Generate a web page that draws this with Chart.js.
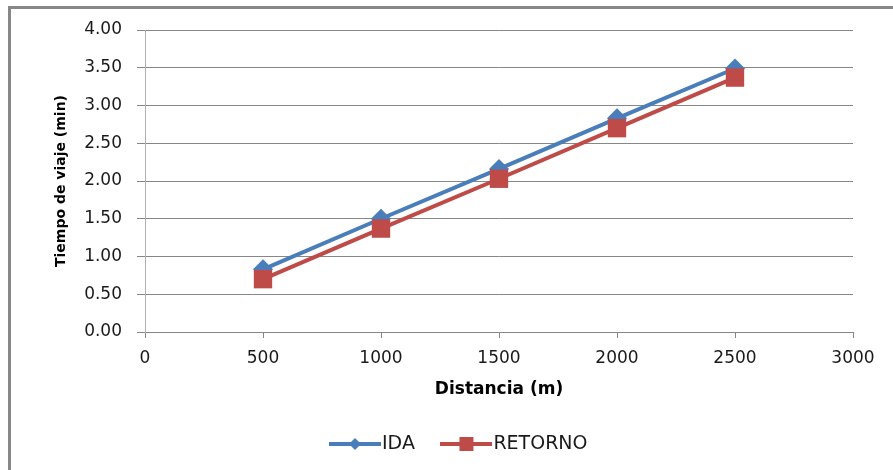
<!DOCTYPE html>
<html lang="es">
<head>
  <meta charset="UTF-8" />
  <title>Tiempo de viaje vs distancia</title>
  <script src="https://cdn.jsdelivr.net/npm/chart.js"></script>
  <style>
    html, body { margin: 0; padding: 0; background: #fff; overflow: hidden; }
    #wrap { position: absolute; left: 0; top: 0; width: 893px; height: 470px; }
  </style>
</head>
<body>
  <div id="wrap"><canvas id="chart" width="893" height="470"></canvas></div>
  <script>
    // values
    const distancias = [500, 1000, 1500, 2000, 2500];
    const ida = [0.83, 1.50, 2.16, 2.83, 3.49];
    const retorno = [0.70, 1.37, 2.03, 2.70, 3.37];

    const BLUE = "#4a7ebb";
    const RED = "#be4b48";
    const GRID = "#878787";
    const TEXT = "#1a1a1a";
    const FONT = "'DejaVu Sans', Verdana, sans-serif";

    // grey frame of the chart object (only its top and left edges are in view)
    const frame = {
      id: "frame",
      beforeDraw(chart) {
        const ctx = chart.ctx;
        ctx.save();
        ctx.fillStyle = "#fff";
        ctx.fillRect(0, 0, chart.width, chart.height);
        ctx.fillStyle = "#878787";
        ctx.fillRect(8, 6, chart.width - 8, 3);
        ctx.fillRect(8, 6, 3, chart.height - 6);
        ctx.restore();
      }
    };

    // legend icon: a short line with the marker in the middle
    function legendIcon(color, shape) {
      const c = document.createElement("canvas");
      c.width = 52; c.height = 18;
      const g = c.getContext("2d");
      g.strokeStyle = color; g.lineWidth = 4;
      g.beginPath(); g.moveTo(0, 9); g.lineTo(52, 9); g.stroke();
      g.fillStyle = color;
      g.beginPath();
      if (shape === "diamond") {
        g.moveTo(26, 3); g.lineTo(32, 9); g.lineTo(26, 15); g.lineTo(20, 9);
      } else {
        g.rect(19, 2, 14, 14);
      }
      g.closePath(); g.fill();
      return c;
    }
    const icons = [legendIcon(BLUE, "diamond"), legendIcon(RED, "square")];

    const toPts = ys => distancias.map((x, i) => ({ x: x, y: ys[i] }));

    new Chart(document.getElementById("chart"), {
      type: "line",
      data: {
        datasets: [
          {
            label: "IDA",
            data: toPts(ida),
            borderColor: BLUE,
            backgroundColor: BLUE,
            borderWidth: 4,
            pointStyle: "rectRot",
            pointRadius: 10,
            pointBorderWidth: 0,
            order: 1
          },
          {
            label: "RETORNO",
            data: toPts(retorno),
            borderColor: RED,
            backgroundColor: RED,
            borderWidth: 4,
            pointStyle: "rect",
            pointRadius: 13,
            pointBorderWidth: 0,
            order: 0
          }
        ]
      },
      options: {
        responsive: false,
        animation: false,
        layout: { padding: { left: 72, right: 40, top: 30, bottom: 6.5 } },
        scales: {
          x: {
            type: "linear",
            min: 0, max: 3000,
            ticks: {
              stepSize: 500, color: TEXT, padding: 10,
              font: { family: FONT, size: 17 },
              callback: v => String(v)
            },
            grid: { drawOnChartArea: false, drawTicks: true, tickLength: 6, color: GRID },
            border: { color: GRID },
            title: {
              display: true, text: "Distancia (m)", color: "#000",
              font: { family: FONT, size: 17, weight: "bold" },
              padding: { top: 0, bottom: 1 }
            },
            afterFit: s => { s.height = 68.5; }
          },
          y: {
            min: 0, max: 4,
            ticks: {
              stepSize: 0.5, color: TEXT, padding: 15,
              font: { family: FONT, size: 17 },
              callback: v => Number(v).toFixed(2)
            },
            grid: { color: GRID, tickLength: 8 },
            border: { display: true, color: "#b0b0b0" },
            title: {
              display: true, text: "Tiempo de viaje (min)", color: "#000",
              font: { family: FONT, size: 14, weight: "bold" },
              padding: { top: -19, bottom: 0 }
            },
            afterFit: s => { s.width = 73; }
          }
        },
        plugins: {
          legend: {
            position: "bottom",
            labels: {
              usePointStyle: true,
              pointStyleWidth: 35,
              padding: 34,
              color: TEXT,
              font: { family: FONT, size: 19 },
              sort: (a, b) => a.datasetIndex - b.datasetIndex,
              generateLabels: chart => {
                const items = Chart.defaults.plugins.legend.labels.generateLabels(chart);
                items.forEach(it => { it.pointStyle = icons[it.datasetIndex]; });
                return items;
              }
            }
          },
          tooltip: { enabled: false }
        }
      },
      plugins: [frame]
    });
  </script>
</body>
</html>
